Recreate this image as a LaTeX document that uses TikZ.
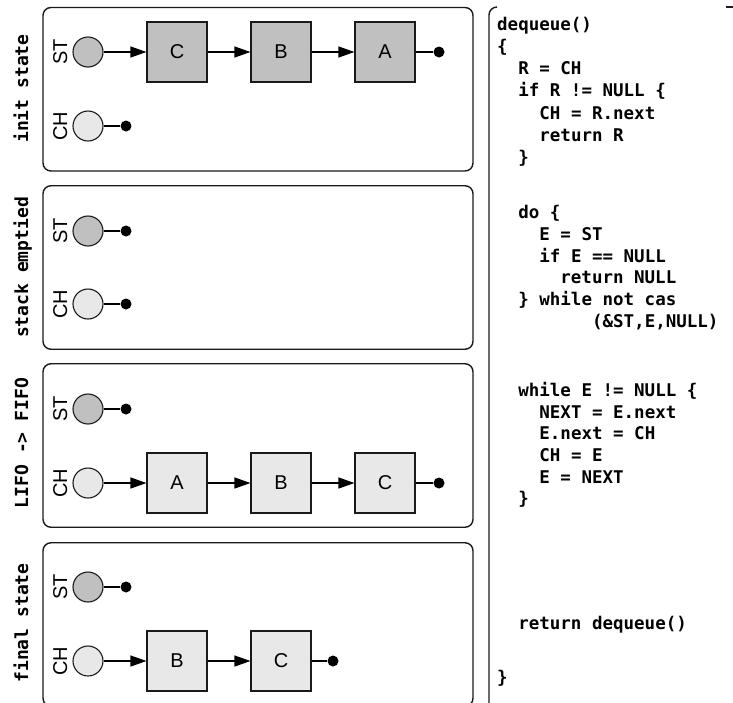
\documentclass[tikz,border=0pt]{standalone}
\usepackage{fontspec}
\setmainfont{Liberation Sans}
\newfontfamily\codefont{DejaVu Sans Mono}
\usetikzlibrary{arrows.meta}
\definecolor{stgray}{HTML}{C0C0C0}
\definecolor{chgray}{HTML}{E8E8E8}
\definecolor{ink}{HTML}{1A1A1A}
\tikzset{
  panelbox/.style={draw=ink, line width=1.4pt, rounded corners=8pt, minimum width=430pt, minimum height=163.5pt, inner sep=0pt},
  frameline/.style={draw=ink, line width=1.4pt, rounded corners=8pt},
  stcirc/.style={circle, draw=ink, line width=1.1pt, fill=stgray, minimum size=30pt, inner sep=0pt},
  chcirc/.style={circle, draw=ink, line width=1.1pt, fill=chgray, minimum size=30pt, inner sep=0pt},
  darkbox/.style={draw=ink, line width=1.1pt, fill=stgray, minimum size=60pt, inner sep=0pt, font=\fontsize{20}{24}\selectfont},
  lightbox/.style={draw=ink, line width=1.1pt, fill=chgray, minimum size=60pt, inner sep=0pt, font=\fontsize{20}{24}\selectfont},
  nulldot/.style={circle, fill=black, minimum size=11pt, inner sep=0pt},
  link/.style={draw=black, line width=1.2pt, -{Triangle[length=16pt,width=11pt]}},
  endlink/.style={draw=black, line width=1.2pt},
  varlbl/.style={rotate=90, anchor=base, inner sep=0pt, font=\fontsize{20}{24}\selectfont},
  statelbl/.style={rotate=90, anchor=base, inner sep=0pt, font=\codefont\bfseries\fontsize{18}{21}\selectfont},
  codeln/.style={anchor=base west, inner sep=0pt, font=\codefont\bfseries\fontsize{17.5}{21}\selectfont},
}
\begin{document}
\begin{tikzpicture}[x=1pt,y=-1pt]
\useasboundingbox (0,0) rectangle (733,702);
\fill[white] (0,0) rectangle (733,702);

% ---------- panels ----------
\node[panelbox] (p1) at (258,89.25) {};
\node[panelbox] (p2) at (258,267.5) {};
\node[panelbox] (p3) at (258,445.5) {};
\node[panelbox] (p4) at (258,624.5) {};

\node[statelbl] (l1) at (28,88.5) {init state};
\node[statelbl] (l2) at (28,267.5) {stack emptied};
\node[statelbl] (l3) at (28,443) {LIFO -> FIFO};
\node[statelbl] (l4) at (28,623) {final state};

% ---------- panel 1 ----------
\node[stcirc] (st1) at (88,52) {};
\node[chcirc] (ch1) at (88,126) {};
\node[varlbl] (st1l) at (67,52) {ST};
\node[varlbl] (ch1l) at (67,126) {CH};
\node[darkbox] (c1) at (177,52) {C};
\node[darkbox] (b1) at (281,52) {B};
\node[darkbox] (a1) at (385,52) {A};
\node[nulldot] (n1a) at (439,52) {};
\node[nulldot] (n1b) at (126,126) {};
\draw[link] (st1) -- (c1);
\draw[link] (c1) -- (b1);
\draw[link] (b1) -- (a1);
\draw[endlink] (a1) -- (n1a);
\draw[endlink] (ch1) -- (n1b);

% ---------- panel 2 ----------
\node[stcirc] (st2) at (88,231) {};
\node[chcirc] (ch2) at (88,304) {};
\node[varlbl] (st2l) at (67,231) {ST};
\node[varlbl] (ch2l) at (67,304) {CH};
\node[nulldot] (n2a) at (126,231) {};
\node[nulldot] (n2b) at (126,304) {};
\draw[endlink] (st2) -- (n2a);
\draw[endlink] (ch2) -- (n2b);

% ---------- panel 3 ----------
\node[stcirc] (st3) at (88,409) {};
\node[chcirc] (ch3) at (88,483) {};
\node[varlbl] (st3l) at (67,409) {ST};
\node[varlbl] (ch3l) at (67,483) {CH};
\node[nulldot] (n3a) at (126,409) {};
\node[lightbox] (a3) at (177,483) {A};
\node[lightbox] (b3) at (281,483) {B};
\node[lightbox] (c3) at (385,483) {C};
\node[nulldot] (n3b) at (439,483) {};
\draw[endlink] (st3) -- (n3a);
\draw[link] (ch3) -- (a3);
\draw[link] (a3) -- (b3);
\draw[link] (b3) -- (c3);
\draw[endlink] (c3) -- (n3b);

% ---------- panel 4 ----------
\node[stcirc] (st4) at (88,587) {};
\node[chcirc] (ch4) at (88,661) {};
\node[varlbl] (st4l) at (67,587) {ST};
\node[varlbl] (ch4l) at (67,661) {CH};
\node[nulldot] (n4a) at (126,587) {};
\node[lightbox] (b4) at (177,661) {B};
\node[lightbox] (c4) at (281,661) {C};
\node[nulldot] (n4b) at (333,661) {};
\draw[endlink] (st4) -- (n4a);
\draw[link] (ch4) -- (b4);
\draw[link] (b4) -- (c4);
\draw[endlink] (c4) -- (n4b);

% ---------- code frame ----------
\draw[frameline] (489,720) -- (489,7) -- (497,7);
\draw[frameline] (726,7) -- (745,7);

% ---------- code ----------
\node[codeln] (k1) at (497,30) {dequeue()};
\node[codeln] (k2) at (497,52.3) {\{};
\node[codeln] (k3) at (518.1,74.6) {R = CH};
\node[codeln] (k4) at (518.1,96.9) {if R != NULL \{};
\node[codeln] (k5) at (539.2,119.2) {CH = R.next};
\node[codeln] (k6) at (539.2,141.5) {return R};
\node[codeln] (k7) at (518.1,163.8) {\}};

\node[codeln] (k8) at (518.1,218.5) {do \{};
\node[codeln] (k9) at (539.2,240.3) {E = ST};
\node[codeln] (k10) at (539.2,262.1) {if E == NULL};
\node[codeln] (k11) at (560.2,283.9) {return NULL};
\node[codeln] (k12) at (518.1,305.7) {\} while not cas};
\node[codeln] (k13) at (591.9,327.5) {(\&ST,E,NULL)};

\node[codeln] (k14) at (518.1,396.7) {while E != NULL \{};
\node[codeln] (k15) at (539.2,418.3) {NEXT = E.next};
\node[codeln] (k16) at (539.2,439.9) {E.next = CH};
\node[codeln] (k17) at (539.2,461.5) {CH = E};
\node[codeln] (k18) at (539.2,483.1) {E = NEXT};
\node[codeln] (k19) at (518.1,504.7) {\}};

\node[codeln] (k20) at (518.1,629) {return dequeue()};
\node[codeln] (k21) at (497,683) {\}};
\end{tikzpicture}
\end{document}
